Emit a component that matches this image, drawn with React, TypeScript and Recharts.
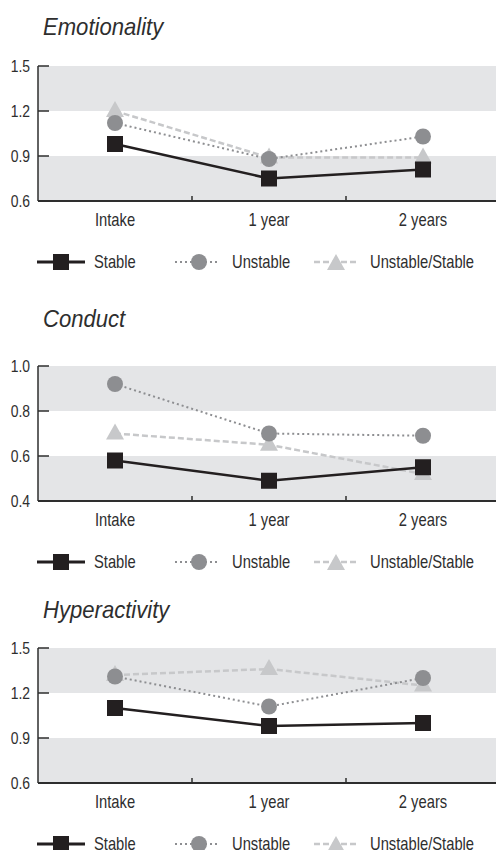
import React from "react";
import { LineChart, Line, XAxis, YAxis, CartesianGrid, Legend } from "recharts";

const categories = ["Intake", "1 year", "2 years"];
const seriesNames = ["Stable", "Unstable", "Unstable/Stable"];

const emotionalityStable = [0.98, 0.75, 0.81];
const emotionalityUnstable = [1.12, 0.88, 1.03];
const emotionalityMixed = [1.2, 0.89, 0.89];

const conductStable = [0.58, 0.49, 0.55];
const conductUnstable = [0.92, 0.7, 0.69];
const conductMixed = [0.7, 0.65, 0.52];

const hyperStable = [1.1, 0.98, 1.0];
const hyperUnstable = [1.31, 1.11, 1.3];
const hyperMixed = [1.32, 1.36, 1.25];

const emotionalityTicks = [0.6, 0.9, 1.2, 1.5];
const conductTicks = [0.4, 0.6, 0.8, 1.0];
const hyperTicks = [0.6, 0.9, 1.2, 1.5];

// no narrow face installed, so plain Liberation Sans squeezed horizontally
const FONT = "'Liberation Sans', Arial, sans-serif";
const SQUEEZE = 0.82;
const INK = "#2e2e2e";
const BAND = "#e4e5e7";
const DARK = "#231f20";
const MID = "#8d8e91";
const LIGHT = "#c7c8ca";
const AXIS_X = 38;
const CAT_HALF = 77;

const buildRows = (stable: number[], unstable: number[], mixed: number[]) =>
  categories.map((name, i) => ({ name, stable: stable[i], unstable: unstable[i], mixed: mixed[i] }));

const NarrowText = (props: {
  x: number;
  y: number;
  dy?: string;
  anchor?: "start" | "middle" | "end";
  size: number;
  children: React.ReactNode;
}) => (
  <text
    transform={`translate(${props.x},${props.y}) scale(${SQUEEZE},1)`}
    dy={props.dy}
    textAnchor={props.anchor || "start"}
    fontSize={props.size}
    fill={INK}
    fontFamily={FONT}
  >
    {props.children}
  </text>
);

const Square = (props: any) => {
  const { cx, cy } = props;
  if (cx == null || cy == null) return null;
  return <rect x={cx - 8} y={cy - 8} width={16} height={16} fill={DARK} />;
};

const Circle = (props: any) => {
  const { cx, cy } = props;
  if (cx == null || cy == null) return null;
  return <circle cx={cx} cy={cy} r={8} fill={MID} />;
};

const Triangle = (props: any) => {
  const { cx, cy } = props;
  if (cx == null || cy == null) return null;
  return <polygon points={`${cx},${cy - 10} ${cx - 9},${cy + 6} ${cx + 9},${cy + 6}`} fill={LIGHT} />;
};

const YTick = (props: any) => {
  const { x, y, payload } = props;
  return (
    <g>
      <line x1={AXIS_X} x2={AXIS_X + 11} y1={y} y2={y} stroke={INK} strokeWidth={1.5} />
      <NarrowText x={x} y={y} dy="0.33em" anchor="end" size={17}>
        {Number(payload.value).toFixed(1)}
      </NarrowText>
    </g>
  );
};

const XTick = (props: any) => {
  const { x, y, payload, index } = props;
  const base = y - 12;
  return (
    <g>
      {index > 0 && (
        <line x1={x - CAT_HALF} x2={x - CAT_HALF} y1={base} y2={base - 5} stroke={INK} strokeWidth={1.5} />
      )}
      <NarrowText x={x} y={y} dy="0.71em" anchor="middle" size={18}>
        {payload.value}
      </NarrowText>
    </g>
  );
};

const renderLegend = () => (
  <svg width={496} height={20} style={{ display: "block" }}>
    <line x1={37} x2={85} y1={10} y2={10} stroke={DARK} strokeWidth={3} />
    <Square cx={61} cy={10} />
    <NarrowText x={94} y={16} size={18}>{seriesNames[0]}</NarrowText>
    <line x1={175} x2={218} y1={10} y2={10} stroke={MID} strokeWidth={2} strokeDasharray="2 3" />
    <Circle cx={199} cy={10} />
    <NarrowText x={232} y={16} size={18}>{seriesNames[1]}</NarrowText>
    <line x1={314} x2={357} y1={10} y2={10} stroke={LIGHT} strokeWidth={2.5} strokeDasharray="6 3" />
    <Triangle cx={336} cy={12} />
    <NarrowText x={370} y={16} size={18}>{seriesNames[2]}</NarrowText>
  </svg>
);

interface PanelProps {
  title: string;
  titleTop: number;
  top: number;
  rows: ReturnType<typeof buildRows>;
  ticks: number[];
}

function Panel({ title, titleTop, top, rows, ticks }: PanelProps) {
  const lo = ticks[0];
  const hi = ticks[ticks.length - 1];
  return (
    <>
      <div
        style={{
          position: "absolute",
          left: 43,
          top: titleTop,
          fontFamily: FONT,
          fontStyle: "italic",
          fontSize: 24,
          lineHeight: "24px",
          color: INK,
          transform: "scaleX(0.92)",
          transformOrigin: "left top",
          whiteSpace: "nowrap",
        }}
      >
        {title}
      </div>
      <div style={{ position: "absolute", left: 0, top }}>
        <LineChart width={500} height={226} data={rows} margin={{ top: 16, right: 0, bottom: 4, left: 0 }}>
          {/* alternating grey / white bands between the y ticks */}
          <CartesianGrid
            vertical={false}
            stroke="none"
            strokeOpacity={0}
            horizontalFill={[BAND, "#ffffff", BAND]}
            fillOpacity={1}
          />
          <XAxis
            dataKey="name"
            height={51}
            padding={{ left: CAT_HALF, right: CAT_HALF }}
            tickLine={false}
            tickSize={0}
            tickMargin={12}
            interval={0}
            axisLine={{ stroke: INK, strokeWidth: 2 }}
            tick={<XTick />}
          />
          <YAxis
            type="number"
            width={38}
            domain={[lo, hi]}
            ticks={ticks}
            tickLine={false}
            tickSize={0}
            tickMargin={8}
            axisLine={{ stroke: INK, strokeWidth: 1.5 }}
            tick={<YTick />}
          />
          <Legend verticalAlign="bottom" align="left" height={20} content={renderLegend} />
          <Line
            dataKey="mixed"
            name={seriesNames[2]}
            stroke={LIGHT}
            strokeWidth={2.5}
            strokeDasharray="6 3"
            dot={<Triangle />}
            activeDot={false}
            isAnimationActive={false}
          />
          <Line
            dataKey="unstable"
            name={seriesNames[1]}
            stroke={MID}
            strokeWidth={2}
            strokeDasharray="2 3"
            dot={<Circle />}
            activeDot={false}
            isAnimationActive={false}
          />
          <Line
            dataKey="stable"
            name={seriesNames[0]}
            stroke={DARK}
            strokeWidth={2.5}
            dot={<Square />}
            activeDot={false}
            isAnimationActive={false}
          />
        </LineChart>
      </div>
    </>
  );
}

export default function App() {
  return (
    <div
      style={{
        position: "absolute",
        left: 0,
        top: 0,
        width: 496,
        height: 850,
        overflow: "hidden",
        background: "#fff",
      }}
    >
      <Panel
        title="Emotionality"
        titleTop={15}
        top={50}
        rows={buildRows(emotionalityStable, emotionalityUnstable, emotionalityMixed)}
        ticks={emotionalityTicks}
      />
      <Panel
        title="Conduct"
        titleTop={307}
        top={350}
        rows={buildRows(conductStable, conductUnstable, conductMixed)}
        ticks={conductTicks}
      />
      <Panel
        title="Hyperactivity"
        titleTop={598}
        top={632}
        rows={buildRows(hyperStable, hyperUnstable, hyperMixed)}
        ticks={hyperTicks}
      />
    </div>
  );
}
